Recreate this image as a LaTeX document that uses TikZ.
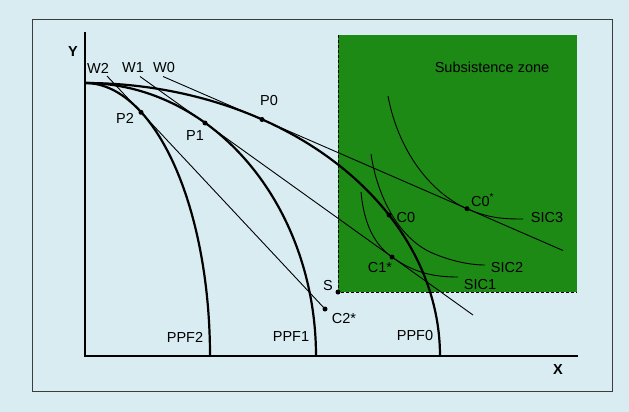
\documentclass[tikz,border=0pt]{standalone}
\usepackage{fontspec}
\setmainfont{Liberation Sans}
\definecolor{bgc}{RGB}{216,236,242}
\definecolor{zonec}{RGB}{30,138,22}
\definecolor{framec}{RGB}{60,60,60}
\begin{document}
\begin{tikzpicture}[x=1pt,y=-1pt,
  lbl/.style={inner sep=0pt, font=\fontsize{14.5}{17}\selectfont},
  axlbl/.style={inner sep=0pt, font=\fontsize{14.5}{17}\selectfont\bfseries},
  axline/.style={line width=2pt},
  ppfline/.style={line width=2.2pt},
  budget/.style={line width=0.9pt},
  sicline/.style={line width=0.9pt},
  dotpt/.style={circle, fill=black, inner sep=0pt, minimum size=5pt}]
\useasboundingbox (0,0) rectangle (629,412);
\fill[bgc] (0,0) rectangle (629,412);
\draw[framec, line width=1pt] (32,20) rectangle (612,391);
% subsistence zone
\fill[zonec] (338,35) rectangle (577,292);
\coordinate (Ztop) at (338,35);
\coordinate (Zright) at (577,292);
\node[dotpt] (S) at (338,292) {};
\draw[dash pattern=on 3pt off 2pt, line width=0.8pt] (Ztop) -- (S.center) -- (Zright);
\node[lbl] (zone) at (492,67) {Subsistence zone};
% axes
\coordinate (O) at (85,356);
\coordinate (Ytop) at (85,32);
\coordinate (Xend) at (578,356);
\draw[axline] (Ytop) -- (O) -- (Xend);
\node[axlbl] (Ylab) at (73,52) {Y};
\node[axlbl] (Xlab) at (558,370) {X};
% PPFs
\draw[ppfline] plot[domain=0:90, samples=90, smooth] ({85+355*sin(\x)},{356-273*cos(\x)});
\draw[ppfline] plot[domain=0:90, samples=90, smooth] ({85+231*sin(\x)},{356-273*cos(\x)});
\draw[ppfline] plot[domain=0:90, samples=90, smooth] ({85+125*sin(\x)},{356-273*cos(\x)});
% points
\node[dotpt] (P0) at (262,119.5) {};
\node[dotpt] (P1) at (205,123) {};
\node[dotpt] (P2) at (141,112.3) {};
\node[dotpt] (C0) at (389,215) {};
\node[dotpt] (C0s) at (467,208.7) {};
\node[dotpt] (C1s) at (392,257) {};
\node[dotpt] (C2s) at (325,309) {};
% budget lines
\coordinate (W0a) at (163,76.5);
\coordinate (W0b) at (563,250.5);
\coordinate (W1a) at (140,76.5);
\coordinate (W1b) at (473,315);
\coordinate (W2a) at (107,76);
\draw[budget] (W0a) -- (P0.center) -- (C0s.center) -- (W0b);
\draw[budget] (W1a) -- (P1.center) -- (C1s.center) -- (W1b);
\draw[budget] (W2a) -- (P2.center) -- (C2s.center);
% indifference curves
\coordinate (SIC3a) at (388,96);
\coordinate (SIC3b) at (523,219);
\coordinate (SIC2a) at (371,154);
\coordinate (SIC2m) at (430,252);
\coordinate (SIC2b) at (485,265);
\coordinate (SIC1a) at (361,192);
\coordinate (SIC1b) at (458,277);
\draw[sicline] (SIC3a) .. controls (398,150) and (430,192.6) .. (C0s.center) .. controls (490,218.7) and (505,219) .. (SIC3b);
\draw[sicline] (SIC2a) .. controls (376,190) and (395,235) .. (SIC2m) .. controls (450,261) and (470,265) .. (SIC2b);
\draw[sicline] (SIC1a) .. controls (364,225) and (375,245) .. (C1s.center) .. controls (415,273.5) and (435,277) .. (SIC1b);
% labels
\node[lbl] (W2lab) at (98,68) {W2};
\node[lbl] (W1lab) at (133,68) {W1};
\node[lbl] (W0lab) at (164,68) {W0};
\node[lbl] (P0lab) at (269,101) {P0};
\node[lbl] (P1lab) at (195,136) {P1};
\node[lbl] (P2lab) at (125,118) {P2};
\node[lbl] (C0lab) at (406,218) {C0};
\node[lbl, anchor=west] (C0slab) at (471,200) {C0\textsuperscript{*}};
\node[lbl] (C1slab) at (380,268) {C1*};
\node[lbl] (C2slab) at (344,319) {C2*};
\node[lbl] (Slab) at (328,286) {S};
\node[lbl] (SIC3lab) at (547,218) {SIC3};
\node[lbl] (SIC2lab) at (507,268) {SIC2};
\node[lbl] (SIC1lab) at (480,285) {SIC1};
\node[lbl] (PPF2lab) at (185,337) {PPF2};
\node[lbl] (PPF1lab) at (291,337) {PPF1};
\node[lbl] (PPF0lab) at (415,336) {PPF0};
\end{tikzpicture}
\end{document}
